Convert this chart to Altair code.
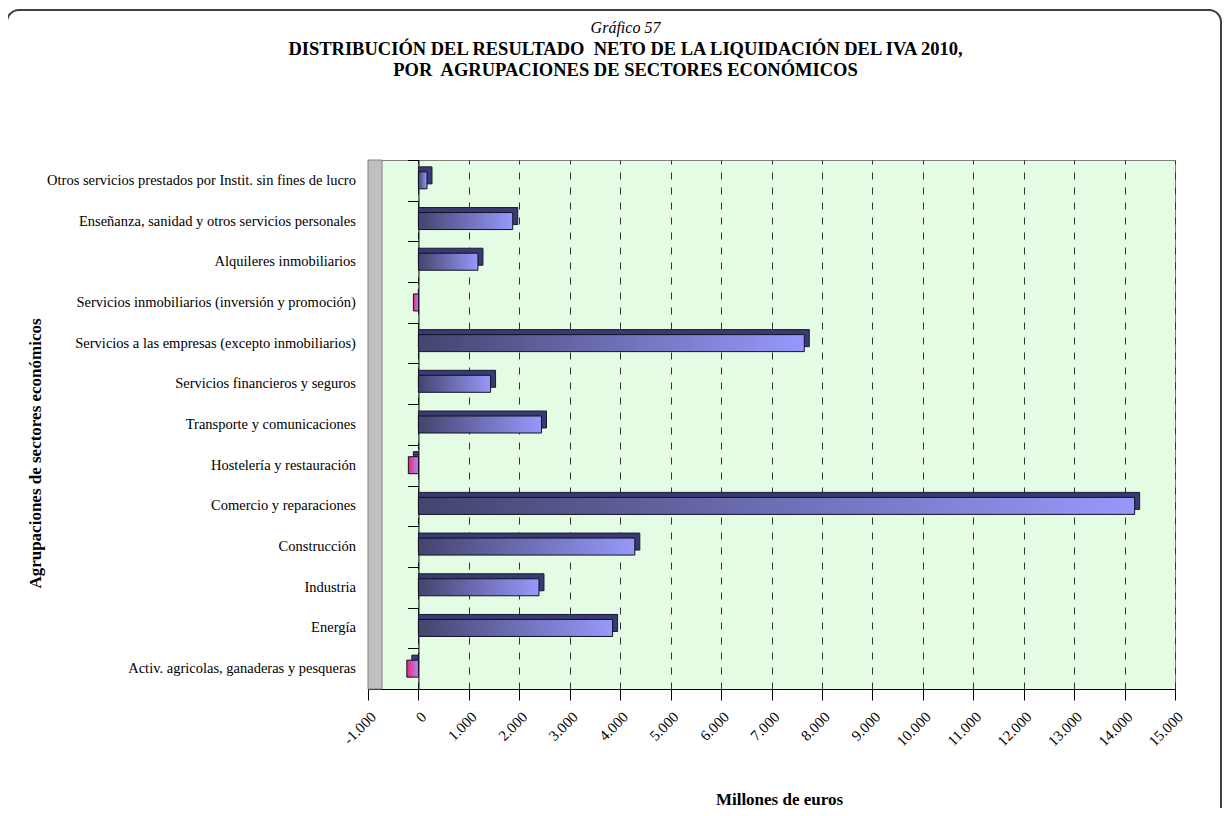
import altair as alt
import pandas as pd

sectores = [
    "Otros servicios prestados por Instit. sin fines de lucro",
    "Enseñanza, sanidad y otros servicios personales",
    "Alquileres inmobiliarios",
    "Servicios inmobiliarios (inversión y promoción)",
    "Servicios a las empresas (excepto inmobiliarios)",
    "Servicios financieros y seguros",
    "Transporte y comunicaciones",
    "Hostelería y restauración",
    "Comercio y reparaciones",
    "Construcción",
    "Industria",
    "Energía",
    "Activ. agricolas, ganaderas y pesqueras",
]
valores = [170, 1870, 1180, -100, 7650, 1430, 2440, -200, 14200, 4290, 2390, 3850, -230]
x_ticks = [-1000, 0, 1000, 2000, 3000, 4000, 5000, 6000, 7000, 8000,
           9000, 10000, 11000, 12000, 13000, 14000, 15000]

df = pd.DataFrame({"sector": sectores, "valor": valores})

W, H = 807, 529
FONT = "Liberation Serif"

label_expr = "replace(replace(format(datum.value, ','), ',', '.'), '\u2212', '-')"

x_enc = alt.X(
    "valor:Q",
    stack=None,
    scale=alt.Scale(domain=[-1000, 15000], nice=False, zero=False),
    axis=alt.Axis(
        values=x_ticks, labelExpr=label_expr, labelAngle=-45,
        labelFont=FONT, labelFontSize=15, labelColor="black", labelPadding=9,
        tickSize=11, tickColor="black", domainColor="black",
        grid=True, gridDash=[7, 8], gridColor="#333333", gridWidth=1,
        title="Millones de euros", titleFont=FONT, titleFontSize=17,
        titleFontWeight="bold", titleColor="black",
        titleX=411, titleY=110, titleBaseline="middle",
    ),
)
y_enc = alt.Y(
    "sector:N",
    sort=sectores,
    scale=alt.Scale(domain=sectores, paddingInner=0, paddingOuter=0),
    axis=alt.Axis(
        offset=-50.44, tickBand="extent", tickSize=11, tickColor="black",
        domainColor="black", labelPadding=52, labelLimit=400,
        labelFont=FONT, labelFontSize=14.5, labelColor="black", grid=False,
        title="Agrupaciones de sectores económicos", titleFont=FONT,
        titleFontSize=17, titleFontWeight="bold", titleColor="black",
        titleX=-383, titleY=293, titleBaseline="middle",
    ),
)

one = alt.Data(values=[{}])

frame = alt.Chart(one).mark_rect(
    fill="white", fillOpacity=0, stroke="#404040", strokeWidth=2, cornerRadius=12
).encode(x=alt.value(-361), x2=alt.value(853), y=alt.value(-150), y2=alt.value(700))

wall = alt.Chart(one).mark_rect(
    fill="#c0c0c0", stroke="#808080", strokeWidth=1
).encode(x=alt.value(0), x2=alt.value(14), y=alt.value(0), y2=alt.value(H))

base = alt.Chart(df)

back = base.mark_bar(
    height=17, xOffset=5, yOffset=-5, color="#3a3a72", stroke="#1a1a33", strokeWidth=1
).encode(x=x_enc, y=y_enc)

pos_grad = alt.LinearGradient(
    gradient="linear",
    stops=[alt.GradientStop(color="#44446e", offset=0),
           alt.GradientStop(color="#9898fc", offset=1)],
    x1=0, x2=1, y1=0, y2=0,
)
neg_grad = alt.LinearGradient(
    gradient="linear",
    stops=[alt.GradientStop(color="#f0207a", offset=0),
           alt.GradientStop(color="#a890f0", offset=1)],
    x1=0, x2=1, y1=0, y2=0,
)

front_pos = base.transform_filter("datum.valor >= 0").mark_bar(
    height=17, color=pos_grad, stroke="#111122", strokeWidth=1
).encode(x=x_enc, y=y_enc)

front_neg = base.transform_filter("datum.valor < 0").mark_bar(
    height=17, color=neg_grad, stroke="#111122", strokeWidth=1
).encode(x=x_enc, y=y_enc)

chart = alt.layer(frame, wall, back, front_pos, front_neg).properties(
    width=W,
    height=H,
    autosize=alt.AutoSizeParams(type="none"),
    padding={"left": 360, "top": 152, "right": 48, "bottom": 119},
    background="white",
    title=alt.TitleParams(
        text="Gráfico 57",
        subtitle=["DISTRIBUCIÓN DEL RESULTADO\u00a0 NETO DE LA LIQUIDACIÓN DEL IVA 2010,",
                  "POR\u00a0 AGRUPACIONES DE SECTORES ECONÓMICOS"],
        anchor="middle", frame="group", dx=-146, offset=-70,
        font=FONT, fontSize=16, fontStyle="italic", fontWeight="normal", color="black",
        subtitleFont=FONT, subtitleFontSize=18.5, subtitleFontWeight="bold",
        subtitleColor="black", subtitleLineHeight=21, subtitlePadding=4,
    ),
).configure_view(fill="#e4fce4", stroke="#808080", strokeWidth=1)

chart.save("out.html", embed_options={"renderer": "svg", "actions": False})
